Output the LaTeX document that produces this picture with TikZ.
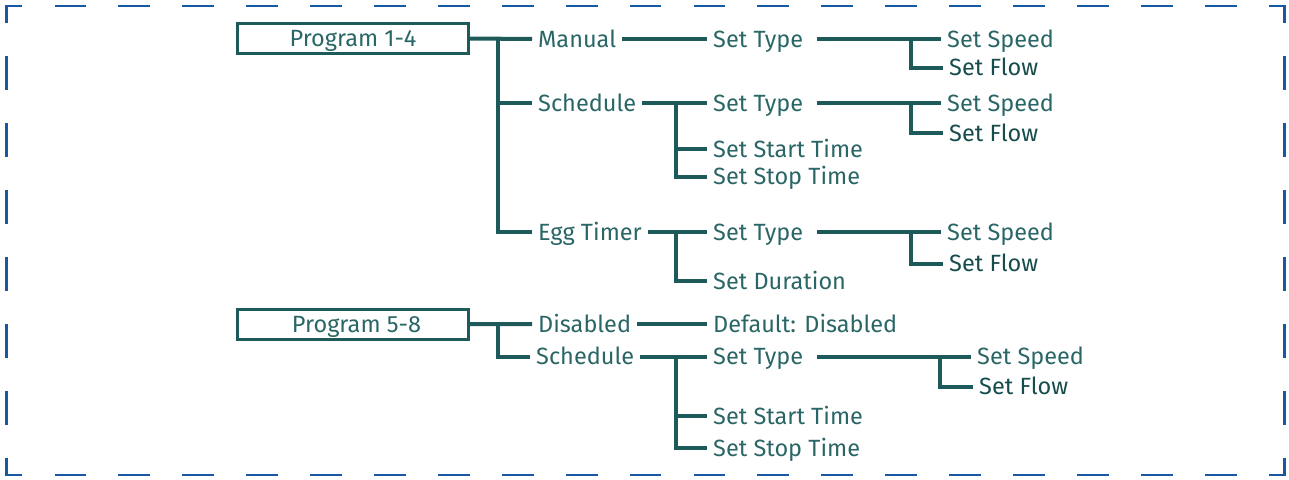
\documentclass[tikz,border=0pt]{standalone}
\usepackage{fontspec}
\setmainfont{Fira Sans}
\definecolor{linec}{RGB}{31,90,90}
\definecolor{txtc}{RGB}{42,102,102}
\definecolor{flowc}{RGB}{22,76,76}
\definecolor{bordc}{RGB}{24,88,162}
\newcommand\lblfont{\fontsize{23.5}{28}\selectfont}
\tikzset{
  conn/.style={draw=linec, line width=4pt},
  lbl/.style={anchor=west, inner xsep=6pt, inner ysep=0pt, text height=16.2pt, text depth=0pt, text=txtc, font=\lblfont},
  flowlbl/.style={lbl, text=flowc},
  progbox/.style={draw=linec, line width=3pt, minimum width=231pt, minimum height=30pt, inner sep=0pt,
     text height=16.2pt, text depth=0pt, text=txtc, font=\lblfont},
  hborder/.style={draw=bordc, line width=2.8pt, line cap=rect, dash pattern=on 29pt off 34.9pt, dash phase=14.5pt},
  vborder/.style={draw=bordc, line width=2.8pt, line cap=rect, dash pattern=on 30.6pt off 36.4pt, dash phase=15.3pt}
}
\begin{document}
\begin{tikzpicture}[x=1pt,y=-1pt]
\useasboundingbox (0,0) rectangle (1289,479);
% border
\coordinate (tl) at (6.5,6);
\coordinate (tr) at (1284.3,6);
\coordinate (bl) at (6.5,475);
\coordinate (br) at (1284.3,475);
\draw[hborder] (tl) -- (tr);
\draw[hborder] (bl) -- (br);
\draw[vborder] (tl) -- (bl);
\draw[vborder] (tr) -- (br);

% Program 1-4
\node[progbox] (p1) at (353,38.5) {Program 1-4};
\node[lbl] (man) at (532,39) {Manual};
\node[lbl] (sch1) at (532,103) {Schedule};
\node[lbl] (egg) at (532,232) {Egg Timer};

\node[lbl] (st1) at (707,39) {Set Type};
\node[lbl] (sp1) at (941,39) {Set Speed};
\node[flowlbl] (fl1) at (943,67.5) {Set Flow};

\node[lbl] (st2) at (707,103) {Set Type};
\node[lbl] (sp2) at (941,103) {Set Speed};
\node[flowlbl] (fl2) at (943,133) {Set Flow};
\node[lbl] (sta1) at (707,149) {Set Start Time};
\node[lbl] (sto1) at (707,176.5) {Set Stop Time};

\node[lbl] (st3) at (707,232) {Set Type};
\node[lbl] (sp3) at (941,232) {Set Speed};
\node[flowlbl] (fl3) at (943,263.5) {Set Flow};
\node[lbl] (dur) at (707,281) {Set Duration};

% Program 5-8
\node[progbox] (p2) at (352.5,324.2) {\hspace*{8pt}Program 5-8};
\node[lbl] (dis) at (532,324) {Disabled};
\node[lbl] (sch2) at (530,356.5) {Schedule};
\node[lbl] (def) at (707,324) {Default: Disabled};
\node[lbl] (st4) at (707,356.5) {Set Type};
\node[lbl] (sp4) at (971,356.5) {Set Speed};
\node[flowlbl] (fl4) at (973,386.7) {Set Flow};
\node[lbl] (sta2) at (707,416) {Set Start Time};
\node[lbl] (sto2) at (707,448.3) {Set Stop Time};

% junctions
\coordinate (j1) at (498,39);
\coordinate (k1) at (911,39);
\coordinate (k2) at (676,103);
\coordinate (k4) at (911,103);
\coordinate (k3) at (676,232);
\coordinate (k5) at (911,232);
\coordinate (j2) at (498,324);
\coordinate (k6) at (676,356.5);
\coordinate (k7) at (940,356.5);

% connectors program 1-4
\draw[conn] (p1.east) -- (man.west);
\draw[conn] (j1) |- (egg.west);
\draw[conn] (j1 |- sch1.west) -- (sch1.west);
\draw[conn] (man.east) -- (st1.west);
\draw[conn] ([xshift=8pt]st1.east) -- (sp1.west);
\draw[conn] (k1) |- (fl1.west);
\draw[conn] (sch1.east) -- (st2.west);
\draw[conn] (k2) |- (sto1.west);
\draw[conn] (k2 |- sta1.west) -- (sta1.west);
\draw[conn] ([xshift=8pt]st2.east) -- (sp2.west);
\draw[conn] (k4) |- (fl2.west);
\draw[conn] (egg.east) -- (st3.west);
\draw[conn] (k3) |- (dur.west);
\draw[conn] ([xshift=8pt]st3.east) -- (sp3.west);
\draw[conn] (k5) |- (fl3.west);

% connectors program 5-8
\draw[conn] (p2.east) -- (dis.west);
\draw[conn] (j2) |- (sch2.west);
\draw[conn] (dis.east) -- (def.west);
\draw[conn] (sch2.east) -- (st4.west);
\draw[conn] (k6) |- (sto2.west);
\draw[conn] (k6 |- sta2.west) -- (sta2.west);
\draw[conn] ([xshift=8pt]st4.east) -- (sp4.west);
\draw[conn] (k7) |- (fl4.west);
\end{tikzpicture}
\end{document}
